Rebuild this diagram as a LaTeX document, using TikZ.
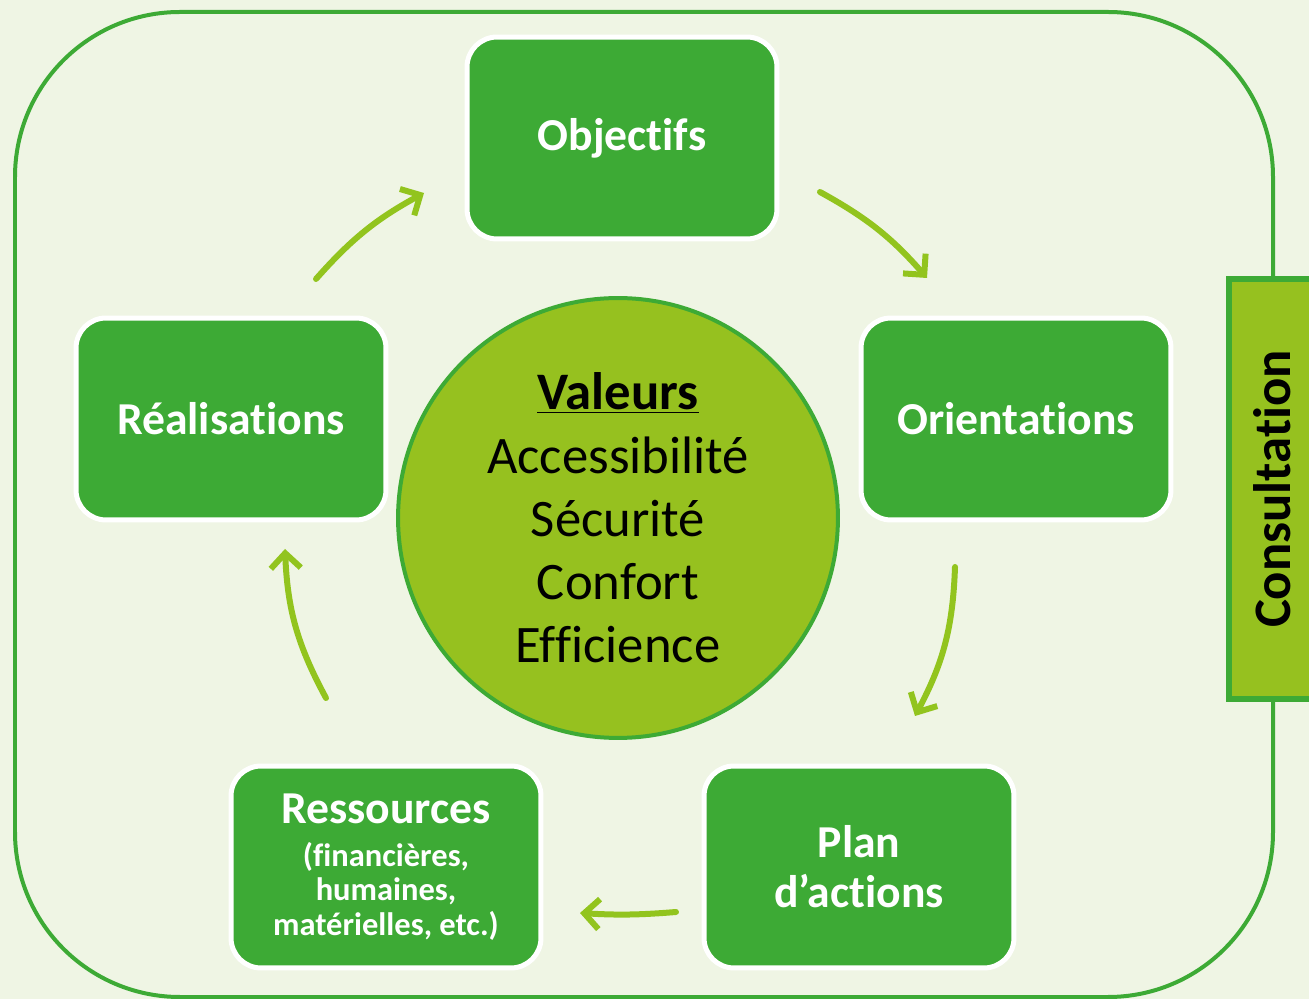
\documentclass[tikz,border=0pt]{standalone}
\usepackage{fontspec}
\setmainfont{Carlito}[Ligatures=NoCommon]
\definecolor{leafgreen}{RGB}{61, 170, 53}
\definecolor{limegreen}{RGB}{150, 193, 31}
\definecolor{arrowlime}{RGB}{146, 196, 30}
\definecolor{paleback}{RGB}{239, 245, 228}
\usepackage{tikz}
\usetikzlibrary{arrows.meta, positioning}
\tikzset{
  stagebox/.style={rectangle, rounded corners=0.6cm, fill=leafgreen, draw=white, line width=0.1cm, minimum width=6.2cm, minimum height=4.04cm, text=white, align=center, font=\bfseries\fontsize{26}{28.5}\selectfont},
  valuecircle/.style={circle, fill=limegreen, draw=leafgreen, line width=0.08cm, minimum size=8.8cm, align=center, font=\fontsize{30}{36}\selectfont},
  consultbox/.style={rectangle, rotate=90, fill=limegreen, draw=leafgreen, line width=0.12cm, minimum width=8.4cm, minimum height=1.72cm, inner sep=0pt, font=\bfseries\fontsize{30}{36}\selectfont},
  cyclearrow/.style={draw=arrowlime, line width=0.12cm, line cap=round, -{Straight Barb[length=0.3cm, width=0.6cm]}},
}

\begin{document}
\begin{tikzpicture}[x=0.02cm, y=-0.02cm]
\clip (0,0) rectangle (1309,999);
\fill[paleback] (0,0) rectangle (1309,999);
\draw[leafgreen, line width=0.08cm, rounded corners=3.3cm] (15,12) rectangle (1273,997);

\node[consultbox] (consult) at (1272,489) {Consultation};

\node[valuecircle] (valeurs) at (618,518)
  {\underline{\textbf{Valeurs}}\\Accessibilité\\Sécurité\\Confort\\Efficience};

\node[stagebox] (obj) at (622,138) {Objectifs};
\node[stagebox] (orient) at (1016,419) {Orientations};
\node[stagebox] (plan) at (859,867) {Plan\\d’actions};
\node[stagebox, font=\bfseries\fontsize{18.5}{19.5}\selectfont] (ress) at (386,867)
  {{\fontsize{26}{30}\selectfont Ressources}\\[5pt](financières,\\humaines,\\matérielles, etc.)};
\node[stagebox] (real) at (231,419) {Réalisations};

% arrow ends round the cycle
\coordinate (realout) at (316,279);
\coordinate (objin) at (424,193);
\coordinate (objout) at (820,192);
\coordinate (orientin) at (927,278);
\coordinate (orientout) at (955,567);
\coordinate (planin) at (915,716);
\coordinate (planout) at (676,912);
\coordinate (ressin) at (580,913);
\coordinate (ressout) at (326,698);
\coordinate (realin) at (285,549);

\draw[cyclearrow] (realout) to[bend left=10] (objin);
\draw[cyclearrow] (objout) to[bend left=10] (orientin);
\draw[cyclearrow] (orientout) to[bend left=13] (planin);
\draw[cyclearrow] (planout) to[bend left=4] (ressin);
\draw[cyclearrow] (ressout) to[bend left=13] (realin);
\end{tikzpicture}
\end{document}
